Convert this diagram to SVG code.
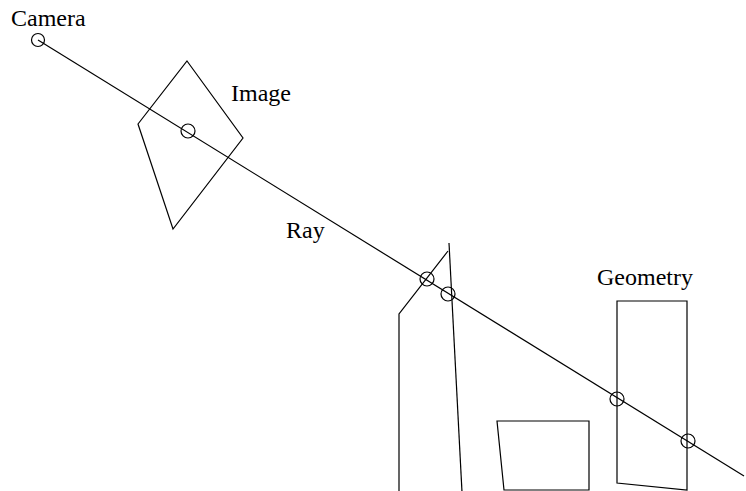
<svg xmlns="http://www.w3.org/2000/svg" width="746" height="491" viewBox="0 0 746 491">
<style>
.s{fill:none;stroke:#000;stroke-width:1.2}
.t{font-family:"Liberation Serif","Times New Roman",serif;font-size:24px;fill:#000}
</style>
<rect width="746" height="491" fill="#fff"/>
<g id="connectors">
<line class="s" x1="38" y1="40" x2="744" y2="476"/>
</g>
<g id="camera">
<circle class="s" cx="38" cy="40" r="6.5"/>
<text class="t" x="11" y="26">Camera</text>
</g>
<g id="image">
<polygon class="s" points="187,61 243,138 173,229 138,124"/>
<circle class="s" cx="188" cy="131" r="7"/>
<text class="t" x="231" y="101">Image</text>
</g>
<g id="ray">
<text class="t" x="286" y="238">Ray</text>
</g>
<g id="geometry">
<polyline class="s" points="399,492 399,314 448,251"/>
<line class="s" x1="449" y1="243" x2="462" y2="492"/>
<polygon class="s" points="497,421 589,421 589,490 504,490"/>
<polygon class="s" points="617,301 687,301 687,490 617,483"/>
<circle class="s" cx="427" cy="279" r="7"/>
<circle class="s" cx="448" cy="294" r="7"/>
<circle class="s" cx="617" cy="399" r="7"/>
<circle class="s" cx="688" cy="441" r="7"/>
<text class="t" x="597" y="285">Geometry</text>
</g>
</svg>
